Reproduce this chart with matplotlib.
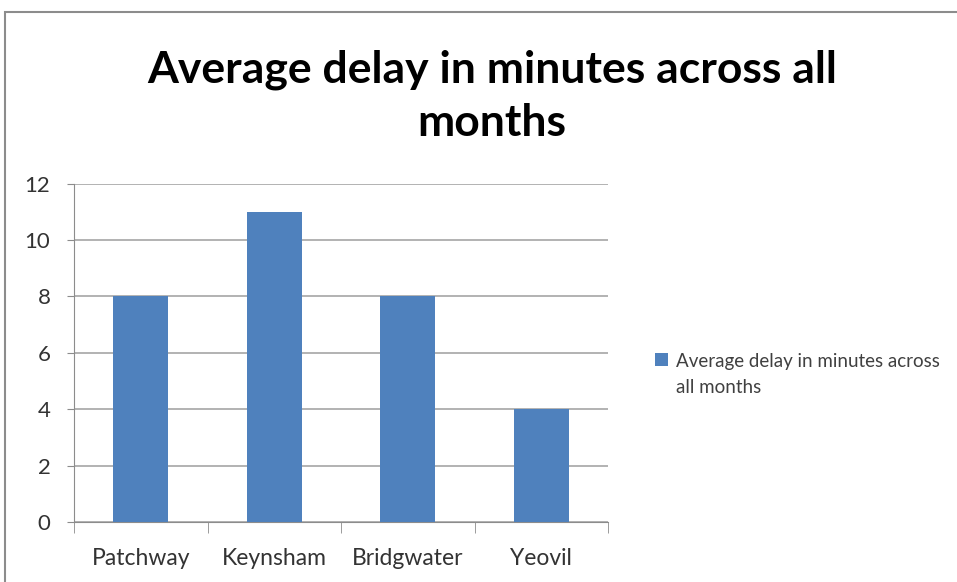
import matplotlib.pyplot as plt
from matplotlib.patches import Rectangle
from matplotlib.legend_handler import HandlerPatch
from matplotlib.container import BarContainer

stations = ['Patchway', 'Keynsham', 'Bridgwater', 'Yeovil']
avg_delay = [8, 11, 8, 4]
yticks = [0, 2, 4, 6, 8, 10, 12]
title = 'Average delay in minutes across all\nmonths'
series_name = 'Average delay in minutes across\nall months'

plt.rcParams['font.family'] = ['Lato', 'DejaVu Sans']

W, H = 957, 582
fig = plt.figure(figsize=(W / 100, H / 100), dpi=100)

# chart frame (cropped at right/bottom like the screenshot)
fig.patches.append(Rectangle((5 / W, -0.1), 1.2, (H - 12) / H + 0.1,
                             transform=fig.transFigure, fill=False,
                             edgecolor='#8c8c8c', linewidth=1.5))

ax = fig.add_axes([74 / W, (H - 522) / H, (608 - 74) / W, (522 - 183.5) / H])
bars = ax.bar(range(len(stations)), avg_delay, width=0.41, color='#4f81bd',
              label=series_name, zorder=3)

ax.set_xlim(-0.5, len(stations) - 0.5)
ax.set_ylim(0, 12)
ax.set_yticks(yticks)
ax.set_xticks(range(len(stations)))
ax.set_xticklabels(stations)
ax.set_xticks([i - 0.5 for i in range(len(stations) + 1)], minor=True)
ax.tick_params(axis='x', which='major', length=0, pad=19, labelsize=16.5, colors='#333333')
ax.tick_params(axis='x', which='minor', length=8, color='#8c8c8c')
ax.tick_params(axis='y', length=5, color='#8c8c8c', labelsize=16, labelcolor='#333333', pad=12)

ax.grid(axis='y', color='#a6a6a6', linewidth=1.2, zorder=0)
for s in ['top', 'right']:
    ax.spines[s].set_visible(False)
ax.spines['left'].set_color('#8c8c8c')
ax.spines['bottom'].set_color('#8c8c8c')

fig.text(492 / W, 1 - 96 / H, title, ha='center', va='center', fontsize=32,
         fontweight='bold', linespacing=1.4)

# legend square sits next to the first line of the wrapped label
leg_size = 13.5
leg_ls = 1.64


def top_square(legend, orig_handle, xdescent, ydescent, width, height, fontsize):
    return Rectangle((-xdescent, -ydescent + leg_size * leg_ls / 2), width, height)


def from_bar(tgt, src):
    tgt.update_from(src.patches[0])
    tgt.set_edgecolor('none')


leg = ax.legend(loc='upper left', bbox_to_anchor=(638 / W, 1 - 336 / H),
                bbox_transform=fig.transFigure, frameon=False, fontsize=leg_size,
                handlelength=0.7, handleheight=0.7, handletextpad=0.4,
                labelcolor='#404040',
                handler_map={BarContainer: HandlerPatch(patch_func=top_square,
                                                        update_func=from_bar)})
for t in leg.get_texts():
    t.set_linespacing(leg_ls)

fig.savefig('out.png', dpi=100)
